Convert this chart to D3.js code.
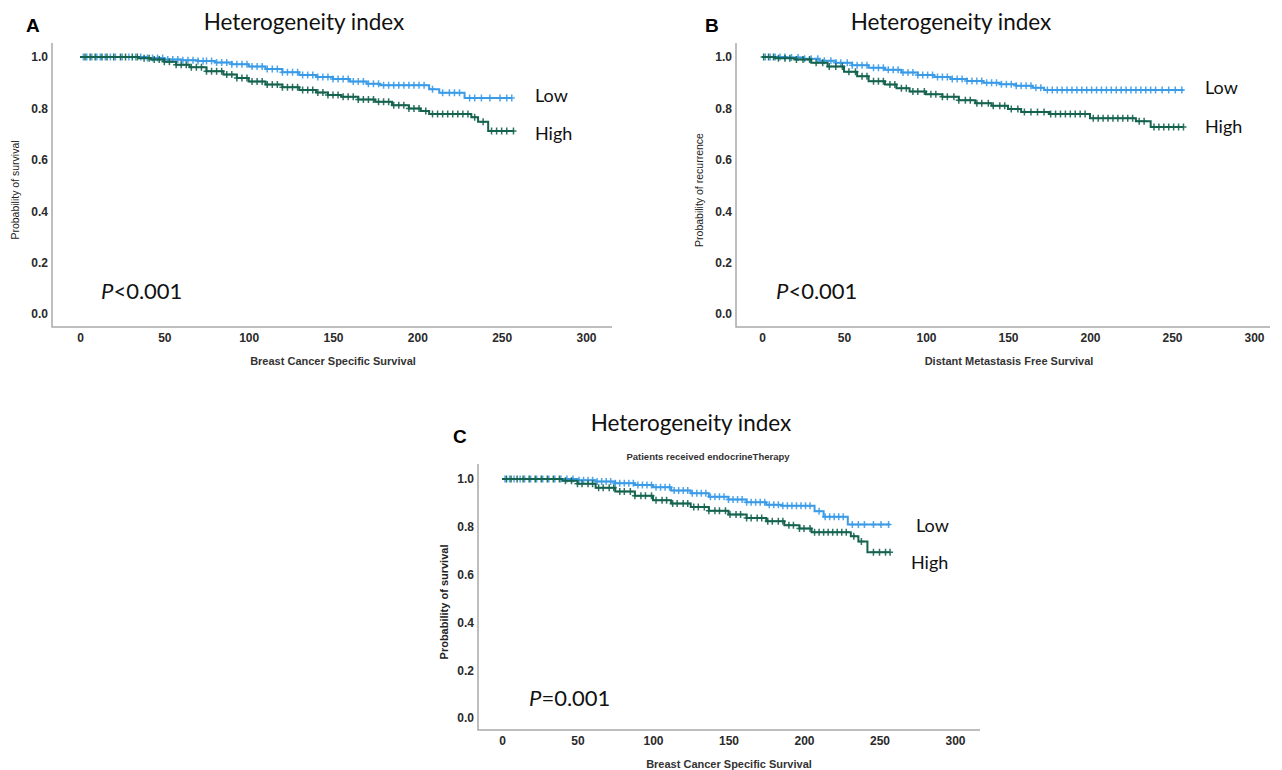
<!DOCTYPE html>
<html>
<head>
<meta charset="utf-8">
<script src="https://cdn.jsdelivr.net/npm/d3@7"></script>
<style>
  body { margin: 0; background: #fff; }
</style>
</head>
<body>
<div id="chart"></div>
<script>
const xTicks = [0, 50, 100, 150, 200, 250, 300];
const yTicks = [0, 0.2, 0.4, 0.6, 0.8, 1.0];
const colors = {Low: "#3a9be8", High: "#15634f"};

// A: breast cancer specific survival, [time, survival] at each step
const aLow = [[0, 1], [32, 1], [40, 0.996], [50, 0.99], [60, 0.987], [70, 0.984], [80, 0.979], [90, 0.972],
    [100, 0.963], [110, 0.953], [120, 0.941], [130, 0.93], [140, 0.922], [150, 0.914], [160, 0.905],
    [170, 0.896], [178, 0.89], [207, 0.875], [213, 0.861], [228, 0.84], [256, 0.84]];
const aHigh = [[0, 1], [28, 1], [35, 0.995], [42, 0.99], [50, 0.982], [57, 0.97], [65, 0.96], [75, 0.945],
    [85, 0.932], [93, 0.918], [100, 0.905], [110, 0.893], [120, 0.882], [130, 0.872], [140, 0.862],
    [147, 0.852], [155, 0.845], [165, 0.835], [175, 0.826], [185, 0.812], [195, 0.8], [202, 0.79],
    [207, 0.778], [232, 0.766], [236, 0.748], [242, 0.712], [257, 0.712]];
const aLowCens = [2, 4, 7, 10, 12, 15, 18, 21, 25, 29, 33, 36, 40, 43, 46, 49, 52, 55, 58, 61, 64, 67, 70, 73, 75,
    78, 81, 84, 87, 90, 93, 96, 99, 102, 105, 108, 111, 114, 117, 120, 123, 126, 129, 132, 135, 138, 141, 144,
    147, 150, 153, 156, 159, 162, 165, 168, 171, 174, 177, 180, 183, 186, 189, 192, 195, 198, 201, 204, 209,
    215, 219, 222, 225, 231, 234, 238, 243, 249, 253, 256];
const aHighCens = [3, 6, 9, 13, 16, 20, 24, 27, 31, 34, 38, 41, 44, 47, 50, 53, 57, 60, 63, 66, 69, 72, 75, 78,
    81, 84, 87, 90, 93, 96, 99, 102, 105, 108, 111, 114, 117, 120, 123, 126, 129, 132, 135, 138, 141, 144, 147,
    150, 153, 156, 159, 162, 165, 168, 171, 174, 177, 180, 183, 186, 189, 192, 195, 198, 201, 205, 209, 212,
    215, 218, 221, 224, 227, 230, 234, 239, 244, 247, 250, 253, 257];

// B: distant metastasis free survival
const bLow = [[0, 1], [15, 0.998], [25, 0.993], [35, 0.985], [45, 0.978], [55, 0.968], [65, 0.958], [75, 0.95],
    [85, 0.94], [95, 0.93], [105, 0.922], [115, 0.914], [125, 0.907], [135, 0.9], [145, 0.894], [155, 0.888],
    [165, 0.88], [172, 0.872], [257, 0.872]];
const bHigh = [[0, 1], [8, 0.995], [20, 0.99], [30, 0.978], [40, 0.963], [50, 0.943], [58, 0.925], [65, 0.906],
    [75, 0.893], [82, 0.878], [90, 0.866], [100, 0.855], [110, 0.845], [120, 0.832], [130, 0.82], [140, 0.81],
    [150, 0.798], [158, 0.786], [175, 0.778], [200, 0.762], [228, 0.75], [237, 0.728], [257, 0.728]];
const bLowCens = [2, 5, 8, 11, 14, 18, 22, 26, 30, 34, 38, 42, 45, 48, 52, 55, 58, 61, 64, 68, 71, 74, 77, 80,
    83, 86, 89, 92, 95, 98, 101, 104, 107, 110, 113, 116, 119, 122, 125, 128, 131, 134, 137, 140, 143, 146,
    149, 152, 155, 158, 161, 164, 167, 170, 174, 177, 180, 183, 186, 189, 192, 195, 198, 201, 204, 207, 210,
    213, 216, 219, 222, 225, 228, 231, 234, 237, 240, 244, 248, 252, 256];
const bHighCens = [1, 4, 7, 10, 14, 17, 21, 25, 29, 33, 37, 41, 45, 49, 53, 57, 61, 64, 68, 71, 74, 78, 81, 85,
    88, 92, 95, 99, 103, 106, 110, 113, 117, 120, 124, 127, 131, 134, 138, 141, 145, 148, 152, 156, 160, 164,
    168, 172, 176, 179, 182, 185, 188, 191, 194, 197, 202, 205, 208, 211, 214, 217, 220, 223, 226, 230, 233,
    239, 242, 245, 248, 251, 254, 257];

// C: breast cancer specific survival, endocrine therapy
const cLow = [[0, 1], [40, 1], [50, 0.995], [62, 0.99], [75, 0.982], [88, 0.975], [100, 0.966], [112, 0.952],
    [125, 0.94], [137, 0.926], [150, 0.914], [162, 0.903], [175, 0.892], [185, 0.888], [207, 0.865],
    [213, 0.842], [229, 0.81], [257, 0.81]];
const cHigh = [[0, 1], [30, 1], [40, 0.993], [50, 0.98], [62, 0.963], [75, 0.948], [88, 0.93], [100, 0.911],
    [112, 0.897], [125, 0.883], [137, 0.867], [150, 0.851], [162, 0.837], [175, 0.823], [187, 0.806],
    [197, 0.793], [205, 0.777], [231, 0.76], [236, 0.739], [242, 0.693], [257, 0.693]];
const cLowCens = [2, 5, 8, 12, 15, 19, 23, 27, 31, 35, 39, 43, 47, 51, 54, 57, 60, 63, 66, 69, 72, 75, 78, 81,
    84, 87, 90, 93, 96, 99, 102, 105, 108, 111, 114, 117, 120, 123, 126, 129, 132, 135, 138, 141, 144, 147,
    150, 153, 156, 159, 162, 165, 168, 171, 174, 177, 180, 183, 186, 189, 192, 195, 198, 201, 204, 210, 214,
    217, 220, 223, 226, 232, 236, 240, 246, 251, 256];
const cHighCens = [3, 6, 10, 14, 18, 22, 26, 30, 34, 38, 42, 46, 50, 53, 57, 60, 64, 67, 71, 74, 78, 81, 85, 88,
    92, 95, 99, 102, 106, 109, 113, 116, 120, 123, 127, 130, 134, 137, 141, 144, 148, 151, 155, 158, 162,
    165, 169, 172, 176, 179, 183, 186, 190, 193, 197, 200, 204, 207, 210, 213, 216, 219, 222, 225, 228, 233,
    238, 246, 250, 254, 257];

const panels = [
    {letter: "A", title: "Heterogeneity index", subtitle: null,
     yLabel: "Probability of survival", xLabel: "Breast Cancer Specific Survival", pSign: "<0.001",
     low: aLow, high: aHigh, lowCens: aLowCens, highCens: aHighCens,
     box: {x0: 80, x300: 586, y0: 314, y1: 57, axisX: 52, axisY: 327, axisTop: 43, axisRight: 612},
     pos: {letter: [26, 32], title: [304, 30], yLabel: 19, xLabel: [333, 365], p: [101, 299],
           low: [535, 102], high: [535, 140], font: 10.5, bold: "normal"}},
    {letter: "B", title: "Heterogeneity index", subtitle: null,
     yLabel: "Probability of recurrence", xLabel: "Distant Metastasis Free Survival", pSign: "<0.001",
     low: bLow, high: bHigh, lowCens: bLowCens, highCens: bHighCens,
     box: {x0: 762, x300: 1254, y0: 314, y1: 57, axisX: 736, axisY: 327, axisTop: 43, axisRight: 1270},
     pos: {letter: [705, 32], title: [951, 30], yLabel: 703, xLabel: [1009, 365], p: [776, 299],
           low: [1205, 94], high: [1205, 133], font: 10.5, bold: "normal"}},
    {letter: "C", title: "Heterogeneity index", subtitle: "Patients received endocrineTherapy",
     yLabel: "Probability of survival", xLabel: "Breast Cancer Specific Survival", pSign: "=0.001",
     low: cLow, high: cHigh, lowCens: cLowCens, highCens: cHighCens,
     box: {x0: 502, x300: 955, y0: 718, y1: 479, axisX: 478, axisY: 730, axisTop: 464, axisRight: 980},
     pos: {letter: [453, 443], title: [691, 431], subtitle: [708, 460], yLabel: 448, xLabel: [729, 768],
           p: [529, 706], low: [916, 532], high: [911, 569], font: 11, bold: "bold"}}
];

const svg = d3.select("#chart").append("svg")
    .attr("width", 1282)
    .attr("height", 770)
    .style("font-family", "'Liberation Sans', Arial, sans-serif");

function survivalAt(curve, t) {
    let s = curve[0][1];
    for (let p of curve) {
        if (p[0] <= t) s = p[1];
    }
    return s;
}

function drawPanel(cfg) {
    let b = cfg.box;
    let g = svg.append("g").attr("id", "panel" + cfg.letter);
    let x = d3.scaleLinear().domain([0, 300]).range([b.x0, b.x300]);
    let y = d3.scaleLinear().domain([0, 1]).range([b.y0, b.y1]);

    // axes (no tick marks, grey lines)
    g.append("g")
        .attr("transform", "translate(0," + b.axisY + ")")
        .call(d3.axisBottom(x).tickValues(xTicks).tickSize(0).tickPadding(6).tickFormat(d3.format("d")))
        .call(a => a.select(".domain").remove())
        .selectAll("text")
        .style("font-size", "12px").style("font-weight", "bold").attr("fill", "#2a2a2a")
        .style("font-family", "'Liberation Sans', Arial, sans-serif");
    g.append("g")
        .attr("transform", "translate(" + b.axisX + ",0)")
        .call(d3.axisLeft(y).tickValues(yTicks).tickSize(0).tickPadding(4).tickFormat(d3.format(".1f")))
        .call(a => a.select(".domain").remove())
        .selectAll("text")
        .style("font-size", "12px").style("font-weight", "bold").attr("fill", "#2a2a2a")
        .style("font-family", "'Liberation Sans', Arial, sans-serif");
    g.append("path")
        .attr("d", "M" + b.axisX + "," + b.axisTop + "V" + b.axisY + "H" + b.axisRight)
        .attr("fill", "none").attr("stroke", "#a9a9a9").attr("stroke-width", 1.5);

    // survival steps
    let line = d3.line().curve(d3.curveStepAfter)
        .x(d => x(d[0])).y(d => y(d[1]));
    let series = [
        {key: "Low", curve: cfg.low, cens: cfg.lowCens},
        {key: "High", curve: cfg.high, cens: cfg.highCens}
    ];
    for (let s of series) {
        g.append("path")
            .attr("d", line(s.curve))
            .attr("fill", "none")
            .attr("stroke", colors[s.key])
            .attr("stroke-width", 2);
        // censor marks
        g.append("path")
            .attr("d", s.cens.map(t => {
                let cx = x(t), cy = y(survivalAt(s.curve, t));
                return "M" + (cx - 3) + "," + cy + "h6M" + cx + "," + (cy - 3.5) + "v7";
            }).join(""))
            .attr("fill", "none")
            .attr("stroke", colors[s.key])
            .attr("stroke-width", 1.5)
            .attr("opacity", 0.9);
    }

    let p = cfg.pos;
    g.append("text").attr("x", p.letter[0]).attr("y", p.letter[1])
        .style("font-size", "19px").style("font-weight", "bold").text(cfg.letter);
    g.append("text").attr("x", p.title[0]).attr("y", p.title[1]).attr("text-anchor", "middle")
        .style("font-family", "Lato, sans-serif").style("font-size", "22.5px").attr("fill", "#111")
        .text(cfg.title);
    if (cfg.subtitle) {
        g.append("text").attr("x", p.subtitle[0]).attr("y", p.subtitle[1]).attr("text-anchor", "middle")
            .style("font-size", "9.5px").style("font-weight", "bold").attr("fill", "#333")
            .text(cfg.subtitle);
    }
    g.append("text")
        .attr("transform", "translate(" + p.yLabel + "," + ((b.axisTop + b.axisY) / 2 + 5) + ") rotate(-90)")
        .attr("text-anchor", "middle")
        .style("font-size", p.font + "px").style("font-weight", p.bold).attr("fill", "#222")
        .text(cfg.yLabel);
    g.append("text").attr("x", p.xLabel[0]).attr("y", p.xLabel[1]).attr("text-anchor", "middle")
        .style("font-size", "11px").style("font-weight", "bold").attr("fill", "#333")
        .text(cfg.xLabel);

    let pt = g.append("text").attr("x", p.p[0]).attr("y", p.p[1])
        .style("font-family", "Lato, sans-serif").style("font-size", "22px").attr("fill", "#111");
    pt.append("tspan").style("font-style", "italic").text("P");
    pt.append("tspan").text(cfg.pSign);

    g.append("text").attr("x", p.low[0]).attr("y", p.low[1])
        .style("font-family", "Lato, sans-serif").style("font-size", "18px").attr("fill", "#111").text("Low");
    g.append("text").attr("x", p.high[0]).attr("y", p.high[1])
        .style("font-family", "Lato, sans-serif").style("font-size", "18px").attr("fill", "#111").text("High");
}

panels.forEach(drawPanel);
</script>
</body>
</html>
